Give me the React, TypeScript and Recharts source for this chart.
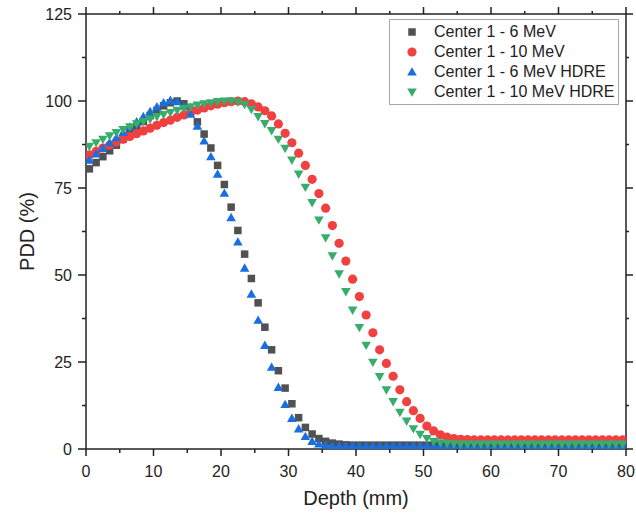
import { ScatterChart, Scatter, XAxis, YAxis, Legend, Label } from "recharts";

// depth (mm) of each measured point
const depth = [
  0.5, 1.5, 2.5, 3.5, 4.5, 5.5, 6.5, 7.5, 8.5, 9.5,
  10.5, 11.5, 12.5, 13.5, 14.5, 15.5, 16.5, 17.5, 18.5, 19.5,
  20.5, 21.5, 22.5, 23.5, 24.5, 25.5, 26.5, 27.5, 28.5, 29.5,
  30.5, 31.5, 32.5, 33.5, 34.5, 35.5, 36.5, 37.5, 38.5, 39.5,
  40.5, 41.5, 42.5, 43.5, 44.5, 45.5, 46.5, 47.5, 48.5, 49.5,
  50.5, 51.5, 52.5, 53.5, 54.5, 55.5, 56.5, 57.5, 58.5, 59.5,
  60.5, 61.5, 62.5, 63.5, 64.5, 65.5, 66.5, 67.5, 68.5, 69.5,
  70.5, 71.5, 72.5, 73.5, 74.5, 75.5, 76.5, 77.5, 78.5, 79.5,
];

const mev6 = [
  80.5, 82.3, 84, 85.7, 87.3, 89, 90.7, 92.4, 94.1, 95.8,
  97.3, 98.6, 99.5, 100, 99.2, 97.2, 94, 90.5, 86.5, 81.5,
  76, 69.5, 62.8, 56, 49, 42, 35, 28.5, 22.5, 17.5,
  13, 9, 6.2, 4.3, 3, 2.2, 1.7, 1.4, 1.2, 1.1,
  1.1, 1.1, 1.1, 1.1, 1.1, 1.1, 1.1, 1.1, 1.1, 1.1,
  1.1, 1.1, 1.1, 1.1, 1.1, 1.1, 1.1, 1.1, 1.1, 1.1,
  1.1, 1.1, 1.1, 1.1, 1.1, 1.1, 1.1, 1.1, 1.1, 1.1,
  1.1, 1.1, 1.1, 1.1, 1.1, 1.1, 1.1, 1.1, 1.1, 1.1,
];

const mev10 = [
  84.5, 85.5, 86.5, 87.3, 88.2, 89, 89.8, 90.6, 91.4, 92.2,
  93, 93.8, 94.5, 95.3, 96, 96.7, 97.4, 98, 98.6, 99.1,
  99.5, 99.8, 100, 99.8, 99.2, 98.3, 97.2, 95.7, 93.4, 90.7,
  88, 85, 81.5, 77.5, 73.4, 69.2, 64.2, 59.1, 54, 48.8,
  43.8, 38.5, 33.4, 28.5, 24.6, 20.9, 17, 13.6, 11, 8.8,
  6.6, 5.2, 4.1, 3.4, 3, 2.8, 2.7, 2.6, 2.6, 2.6,
  2.6, 2.6, 2.6, 2.6, 2.6, 2.6, 2.6, 2.6, 2.6, 2.6,
  2.6, 2.6, 2.6, 2.6, 2.6, 2.6, 2.6, 2.6, 2.6, 2.6,
];

const mev6Hdre = [
  83, 84.8, 86.4, 88, 89.5, 91, 92.5, 94, 95.5, 97,
  98.3, 99.5, 100.2, 99.8, 98.5, 96.2, 92.8, 88.5, 84, 79,
  73.5, 66.5, 59.5, 52, 44.5, 37, 29.8, 23.5, 17.7, 12.8,
  8.8, 5.8, 3.6, 2.2, 1.5, 1.1, 0.9, 0.9, 0.9, 0.9,
  0.9, 0.9, 0.9, 0.9, 0.9, 0.9, 0.9, 0.9, 0.9, 0.9,
  0.9, 0.9, 0.9, 0.9, 0.9, 0.9, 0.9, 0.9, 0.9, 0.9,
  0.9, 0.9, 0.9, 0.9, 0.9, 0.9, 0.9, 0.9, 0.9, 0.9,
  0.9, 0.9, 0.9, 0.9, 0.9, 0.9, 0.9, 0.9, 0.9, 0.9,
];

const mev10Hdre = [
  87, 88, 89, 90, 90.9, 91.8, 92.6, 93.4, 94.1, 94.8,
  95.5, 96.1, 96.7, 97.3, 97.8, 98.3, 98.8, 99.2, 99.5, 99.8,
  100, 100, 99.7, 99, 97.6, 95.5, 93.5, 91.5, 89, 86.4,
  83, 79, 75.2, 70.8, 65.8, 60.7, 55.5, 50.3, 45.2, 39.9,
  34.9, 29.8, 24.9, 20.8, 17, 13.6, 10.5, 8, 5.8, 4.2,
  3, 2.2, 1.8, 1.6, 1.5, 1.4, 1.4, 1.4, 1.4, 1.4,
  1.4, 1.4, 1.4, 1.4, 1.4, 1.4, 1.4, 1.4, 1.4, 1.4,
  1.4, 1.4, 1.4, 1.4, 1.4, 1.4, 1.4, 1.4, 1.4, 1.4,
];

const xTicks = [0, 5, 10, 15, 20, 25, 30, 35, 40, 45, 50, 55, 60, 65, 70, 75, 80];
const yTicks = [0, 12.5, 25, 37.5, 50, 62.5, 75, 87.5, 100, 112.5, 125];

const FONT = "'Liberation Sans', Arial, sans-serif";
const AXIS = "#222";

type Marker = "square" | "circle" | "up" | "down";

const series: { name: string; values: number[]; color: string; marker: Marker }[] = [
  { name: "Center 1 - 6 MeV", values: mev6, color: "#515151", marker: "square" },
  { name: "Center 1 - 10 MeV", values: mev10, color: "#F14040", marker: "circle" },
  { name: "Center 1 - 6 MeV HDRE", values: mev6Hdre, color: "#1A6FDF", marker: "up" },
  { name: "Center 1 - 10 MeV HDRE", values: mev10Hdre, color: "#37AD6B", marker: "down" },
];

function drawMarker(marker: Marker, cx: number, cy: number, color: string) {
  switch (marker) {
    case "square":
      return <rect x={cx - 3.75} y={cy - 3.75} width={7.5} height={7.5} fill={color} />;
    case "circle":
      return <circle cx={cx} cy={cy} r={4.6} fill={color} />;
    case "up":
      return (
        <polygon
          points={`${cx},${cy - 4.8} ${cx - 4.8},${cy + 3.6} ${cx + 4.8},${cy + 3.6}`}
          fill={color}
        />
      );
    default:
      return (
        <polygon
          points={`${cx},${cy + 4.8} ${cx - 4.8},${cy - 3.6} ${cx + 4.8},${cy - 3.6}`}
          fill={color}
        />
      );
  }
}

// tick marks are drawn as filled rects so they show regardless of stroke handling
const BottomTick = ({ x, y, payload }: any) => {
  const major = payload.value % 10 === 0;
  return (
    <g>
      <rect x={x - 0.75} y={y} width={1.5} height={major ? 7 : 4} fill={AXIS} />
      {major && (
        <text x={x} y={y + 28} textAnchor="middle" fontSize={16} fontFamily={FONT} fill="#222">
          {payload.value}
        </text>
      )}
    </g>
  );
};

const TopTick = ({ x, y, payload }: any) => {
  const major = payload.value % 10 === 0;
  const h = major ? 7 : 3;
  return <rect x={x - 0.75} y={y - h} width={1.5} height={h} fill={AXIS} />;
};

const LeftTick = ({ x, y, payload }: any) => {
  const major = payload.value % 25 === 0;
  const w = major ? 8 : 4;
  return (
    <g>
      <rect x={x - w} y={y - 0.75} width={w} height={1.5} fill={AXIS} />
      {major && (
        <text x={x - 14} y={y + 5.7} textAnchor="end" fontSize={16} fontFamily={FONT} fill="#222">
          {payload.value}
        </text>
      )}
    </g>
  );
};

const RightTick = ({ x, y, payload }: any) => {
  const major = payload.value % 25 === 0;
  return <rect x={x} y={y - 0.75} width={major ? 7 : 3} height={1.5} fill={AXIS} />;
};

const LegendBox = () => (
  <div
    style={{
      border: "1px solid #a8a8a8",
      background: "#fff",
      padding: "2px 0",
      fontFamily: FONT,
      fontSize: 16,
      color: "#222",
      boxSizing: "border-box",
      width: 230,
    }}
  >
    {series.map((s) => (
      <div key={s.name} style={{ display: "flex", alignItems: "center", height: 20 }}>
        <svg width={14} height={14} style={{ marginLeft: 15, marginRight: 15 }}>
          {drawMarker(s.marker, 7, 7, s.color)}
        </svg>
        <span style={{ whiteSpace: "nowrap" }}>{s.name}</span>
      </div>
    ))}
  </div>
);

const axisLine = { stroke: AXIS, strokeWidth: 1.5 };

export default function App() {
  return (
    <div style={{ position: "absolute", left: 0, top: 0, background: "#fff" }}>
      <ScatterChart width={636} height={519} margin={{ top: 13, right: 9, bottom: 0, left: 0 }}>
        <XAxis
          type="number"
          dataKey="x"
          domain={[0, 80]}
          allowDataOverflow
          ticks={xTicks}
          height={70}
          tickSize={0}
          tickMargin={0}
          tick={<BottomTick />}
          axisLine={axisLine}
          tickLine={false}
        >
          <Label
            value="Depth (mm)"
            position="insideBottom"
            offset={14}
            style={{ fontSize: 20, fontFamily: FONT, fill: "#222" }}
          />
        </XAxis>
        <XAxis
          xAxisId="top"
          orientation="top"
          type="number"
          dataKey="x"
          domain={[0, 80]}
          allowDataOverflow
          ticks={xTicks}
          height={1}
          tickSize={0}
          tickMargin={0}
          tick={<TopTick />}
          axisLine={axisLine}
          tickLine={false}
        />
        <YAxis
          type="number"
          dataKey="y"
          domain={[0, 125]}
          allowDataOverflow
          ticks={yTicks}
          width={86}
          tickSize={0}
          tickMargin={0}
          tick={<LeftTick />}
          axisLine={axisLine}
          tickLine={false}
        >
          <Label
            value="PDD (%)"
            angle={-90}
            position="insideLeft"
            offset={27}
            style={{ fontSize: 20, fontFamily: FONT, fill: "#222", textAnchor: "middle" }}
          />
        </YAxis>
        <YAxis
          yAxisId="right"
          orientation="right"
          type="number"
          dataKey="y"
          domain={[0, 125]}
          allowDataOverflow
          ticks={yTicks}
          width={1}
          tickSize={0}
          tickMargin={0}
          tick={<RightTick />}
          axisLine={axisLine}
          tickLine={false}
        />
        <Legend
          layout="vertical"
          align="center"
          verticalAlign="middle"
          wrapperStyle={{ left: 389, top: 19, width: 230 }}
          content={() => <LegendBox />}
        />
        {/* invisible copy bound to the mirrored frame axes so they get drawn */}
        <Scatter
          name="frame"
          xAxisId="top"
          yAxisId="right"
          data={depth.map((x, i) => ({ x, y: mev6[i] }))}
          isAnimationActive={false}
          legendType="none"
          shape={() => <g />}
        />
        {series.map((s) => (
          <Scatter
            key={s.name}
            name={s.name}
            data={depth.map((x, i) => ({ x, y: s.values[i] }))}
            fill={s.color}
            isAnimationActive={false}
            shape={(p: any) => drawMarker(s.marker, p.cx, p.cy, s.color)}
          />
        ))}
      </ScatterChart>
    </div>
  );
}
